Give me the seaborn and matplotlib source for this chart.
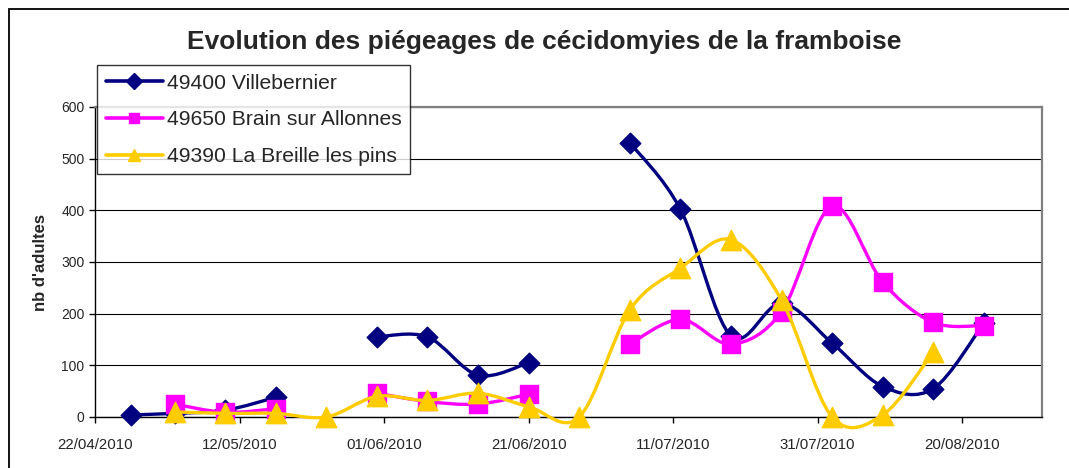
import numpy as np
import pandas as pd
import matplotlib
matplotlib.use('Agg')
import matplotlib.pyplot as plt
import matplotlib.dates as mdates
from matplotlib.path import Path
from matplotlib.patches import PathPatch, Rectangle
from matplotlib.lines import Line2D
import seaborn as sns

# weekly trap readings (nb of adults), NaN = no reading
dates = ['27/04/2010', '03/05/2010', '10/05/2010', '17/05/2010', '24/05/2010',
         '31/05/2010', '07/06/2010', '14/06/2010', '21/06/2010', '28/06/2010',
         '05/07/2010', '12/07/2010', '19/07/2010', '26/07/2010', '02/08/2010',
         '09/08/2010', '16/08/2010', '23/08/2010']
villebernier = [4, 7, 13, 38, np.nan, 155, 155, 81, 105, np.nan,
                531, 402, 157, 220, 143, 59, 55, 182]
brain_allonnes = [np.nan, 25, 9, 16, np.nan, 46, 30, 25, 44, np.nan,
                  141, 189, 141, 204, 408, 261, 183, 177]
la_breille = [np.nan, 10, 7, 7, 0, 40, 32, 46, 20, 0,
              207, 288, 343, 226, 0, 4, 126, np.nan]

series_names = ['49400 Villebernier', '49650 Brain sur Allonnes', '49390 La Breille les pins']
tick_labels = ['22/04/2010', '12/05/2010', '01/06/2010', '21/06/2010',
               '11/07/2010', '31/07/2010', '20/08/2010']
x_min, x_max = '22/04/2010', '31/08/2010'

title = 'Evolution des piégeages de cécidomyies de la framboise'
ylabel = "nb d'adultes"


def smooth_path(x, y):
    # Excel-style smoothed line: catmull-rom turned into cubic beziers,
    # a new piece starts after every missing value
    verts, codes = [], []
    run = []
    for xi, yi in list(zip(x, y)) + [(np.nan, np.nan)]:
        if np.isnan(yi):
            if len(run) > 1:
                pts = np.array(run)
                n = len(pts)
                verts.append(pts[0])
                codes.append(Path.MOVETO)
                for i in range(n - 1):
                    p0 = pts[max(i - 1, 0)]
                    p1 = pts[i]
                    p2 = pts[i + 1]
                    p3 = pts[min(i + 2, n - 1)]
                    verts += [p1 + (p2 - p0) / 6, p2 - (p3 - p1) / 6, p2]
                    codes += [Path.CURVE4] * 3
            run = []
        else:
            run.append((xi, yi))
    return Path(verts, codes)


sns.set_style('white')
plt.rcParams['font.family'] = ['Liberation Sans', 'DejaVu Sans']

df = pd.DataFrame({
    'date': pd.to_datetime(dates, format='%d/%m/%Y'),
    series_names[0]: villebernier,
    series_names[1]: brain_allonnes,
    series_names[2]: la_breille,
})
xnum = mdates.date2num(df['date'])

fig = plt.figure(figsize=(10.69, 4.68), dpi=100)
ax = fig.add_axes([0.0889, 0.109, 0.8856, 0.6624])

styles = [
    ('#000080', 'D', 110, 8.0),
    ('#FF00FF', 's', 170, 7.0),
    ('#FFCC00', '^', 215, 9.0),
]

handles = []
for k, (name, (color, marker, size, leg_ms)) in enumerate(zip(series_names, styles)):
    z = 3 + k
    patch = PathPatch(smooth_path(xnum, df[name].to_numpy(dtype=float)),
                      facecolor='none', edgecolor=color, lw=2.4,
                      zorder=z, clip_on=False, capstyle='round', joinstyle='round')
    ax.add_patch(patch)
    sns.scatterplot(data=df, x='date', y=name, marker=marker, s=size,
                    color=color, edgecolor=color, linewidth=1,
                    zorder=z + 0.5, clip_on=False, legend=False, ax=ax)
    handles.append(Line2D([0], [0], color=color, lw=2.6, marker=marker,
                          markersize=leg_ms, markeredgecolor=color))

ax.set_xlim(pd.to_datetime(x_min, format='%d/%m/%Y'), pd.to_datetime(x_max, format='%d/%m/%Y'))
ax.set_ylim(0, 600)
ax.set_xticks(pd.to_datetime(tick_labels, format='%d/%m/%Y'))
ax.set_xticklabels(tick_labels)
ax.set_yticks(range(0, 601, 100))
ax.set_xlabel('')
ax.set_ylabel('')

ax.yaxis.grid(True, color='black', lw=0.8)
ax.xaxis.grid(False)
ax.set_axisbelow(True)
for side in ['left', 'bottom']:
    ax.spines[side].set_color('black')
    ax.spines[side].set_linewidth(1.0)
for side in ['top', 'right']:
    ax.spines[side].set_color('#808080')
    ax.spines[side].set_linewidth(1.6)
ax.tick_params(direction='out', length=4, width=1, color='black', labelsize=10,
               bottom=True, left=True)
ax.tick_params(axis='x', pad=11, labelsize=10.8)

leg = ax.legend(handles, series_names, loc='upper left', bbox_to_anchor=(0.0025, 1.135),
                borderaxespad=0, frameon=True, fancybox=False, fontsize=15.2,
                handlelength=2.7, handletextpad=0.2, labelspacing=0.84,
                borderpad=0.4)
leg.get_frame().set_edgecolor('black')
leg.get_frame().set_linewidth(1.0)
leg.set_zorder(10)

fig.text(0.509, 0.910, title, ha='center', va='center', fontsize=19, fontweight='bold')
fig.text(0.038, 0.44, ylabel, ha='center', va='center', rotation=90,
         fontsize=12, fontweight='bold')

fig.patches.append(Rectangle((9 / 1069, -0.1), 1.2, 1.1 - 9 / 468, transform=fig.transFigure,
                             fill=False, edgecolor='black', lw=1.3))

fig.savefig('out.png', dpi=100)
